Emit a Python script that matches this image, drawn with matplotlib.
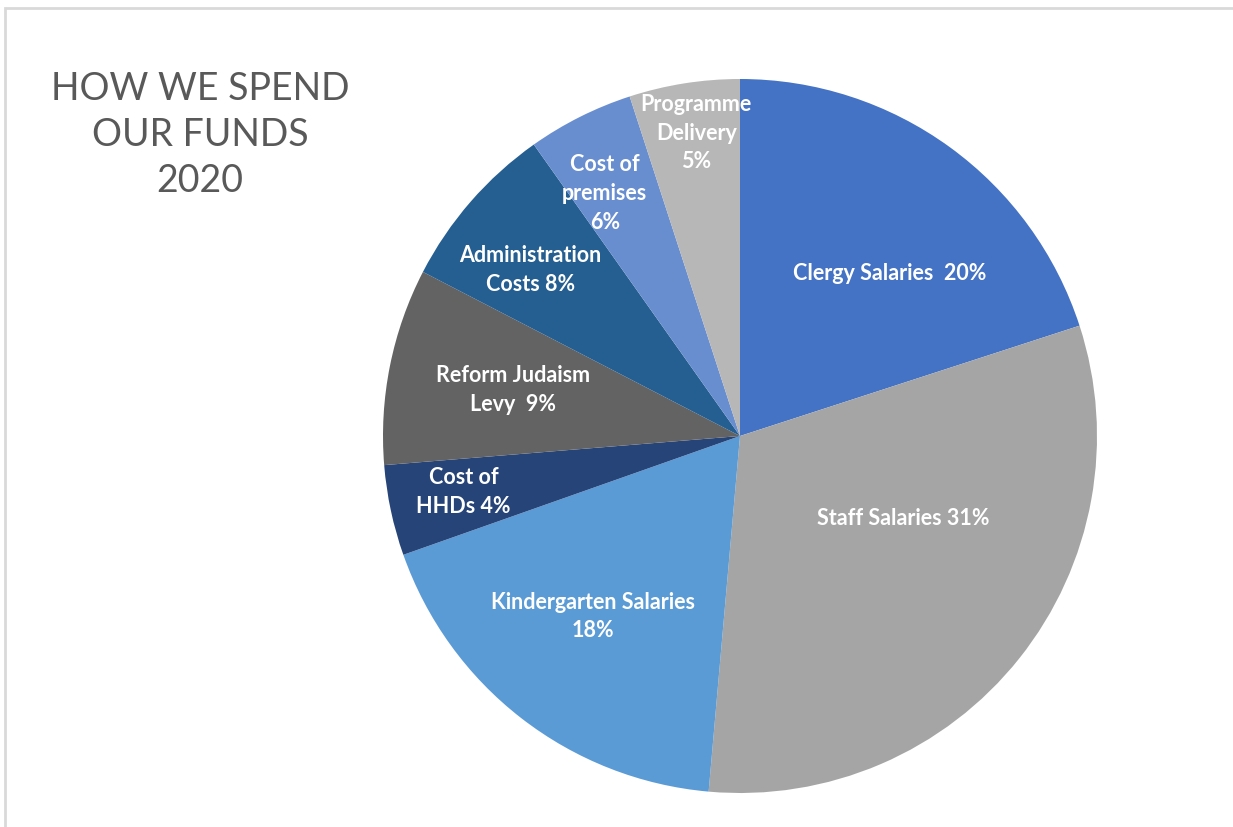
import numpy as np
import matplotlib
matplotlib.use("Agg")
from matplotlib import pyplot as plt
from matplotlib.patches import Rectangle

# slices, clockwise from 12 o'clock (shares)
labels = ["Clergy Salaries  20%", "Staff Salaries 31%", "Kindergarten Salaries\n18%",
          "Cost of\nHHDs 4%", "Reform Judaism\nLevy  9%", "Administration\nCosts 8%",
          "Cost of\npremises\n6%", "Programme\nDelivery\n5%"]
values = [20.0, 31.4, 18.2, 4.1, 8.9, 7.6, 4.8, 5.0]
colors = ["#4472C4", "#A5A5A5", "#5B9BD5", "#264478", "#636363", "#255E91", "#698ED0", "#B7B7B7"]
# where each label sits (fraction of radius, angle shift in degrees)
label_r = [0.62, 0.51, 0.65, 0.79, 0.65, 0.75, 0.78, 0.86]
label_shift = [-6.4, 12, -1.5, -0.8, -0.4, 2.5, 2.4, -0.8]

fig = plt.figure(figsize=(12.33, 8.28), dpi=100)
fig.patch.set_facecolor("white")

# light frame (top and left edges visible)
fig.add_artist(Rectangle((5/1233, -0.1), 1.2, (828-9)/828 + 0.1, transform=fig.transFigure,
                         fill=False, edgecolor="#d9d9d9", linewidth=2))

ax = fig.add_axes([383/1233, 34/828, 714/1233, 714/828])
wedges, _ = ax.pie(values, colors=colors, startangle=90, counterclock=False,
                   wedgeprops=dict(linewidth=0))
ax.set_xlim(-1, 1)
ax.set_ylim(-1, 1)
ax.set_aspect("equal")
ax.axis("off")

for w, lab, r, sh in zip(wedges, labels, label_r, label_shift):
    ang = np.deg2rad((w.theta1 + w.theta2) / 2 + sh)
    ax.text(r*np.cos(ang), r*np.sin(ang), lab, ha="center", va="center",
            color="white", fontsize=15.5, fontweight="bold", family="Lato",
            linespacing=1.45)

fig.text(200/1233, 1 - 135/828, "HOW WE SPEND\nOUR FUNDS\n2020", ha="center", va="center",
         fontsize=27, color="#595959", family="Lato", linespacing=1.36)

fig.savefig("out.png", dpi=100)
